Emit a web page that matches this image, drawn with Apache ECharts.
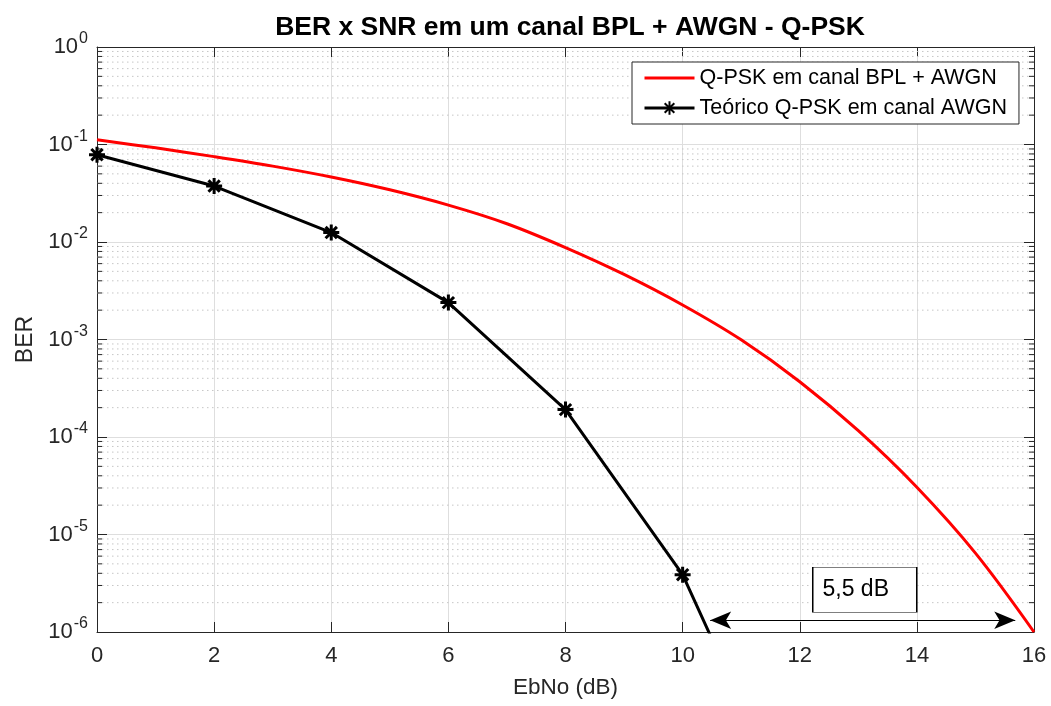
<!DOCTYPE html>
<html>
<head>
<meta charset="utf-8">
<script src="https://cdn.jsdelivr.net/npm/echarts@6/dist/echarts.min.js"></script>
<style>
  html, body { margin: 0; padding: 0; background: #fff; }
  #chart { width: 1051px; height: 706px; }
</style>
</head>
<body>
<div id="chart"></div>
<script>
// Eb/No axis (dB)
const xTicks = [0, 2, 4, 6, 8, 10, 12, 14, 16];

// Q-PSK over BPL + AWGN channel
const bplEbNo = [0, 1, 2, 3, 4, 5, 6, 7, 8, 9, 10, 11, 12, 13, 14, 15, 16];
const bplBer  = [0.1117, 0.0924, 0.0751, 0.0600, 0.0464, 0.0343, 0.0239, 0.0154, 0.00877,
                 0.00465, 0.00226, 9.93e-4, 3.69e-4, 1.16e-4, 3.05e-5, 6.44e-6, 1.0e-6];

// Theoretical Q-PSK over AWGN (last point lies below the axis floor)
const theoEbNo = [0, 2, 4, 6, 8, 10, 12];
const theoBer  = [0.0786, 0.0375, 0.0125, 0.00239, 1.91e-4, 3.87e-6, 9.0e-9];

const seriesNames = ['Q-PSK em canal BPL + AWGN', 'Teórico Q-PSK em canal AWGN'];

// Gap annotation at the BER = 1e-6 floor
const gapArrow = { from: 10.47, to: 15.68, ber: 1.32e-6 };
const gapLabel = { text: '5,5 dB', x: 13.11, ber: 2.71e-6 };

const FONT = "'Liberation Sans', Arial, Helvetica, sans-serif";
const AXIS_COLOR = '#262626';
const X_MIN = 0, X_MAX = 16;

// Log minor positions (2..9 x 10^k)
const minorVals = [];
for (let k = -6; k <= -1; k++) {
  for (let m = 2; m <= 9; m++) minorVals.push(m * Math.pow(10, k));
}

const asterisk = 'path://M0,-10L0,10M-10,0L10,0M-7.07,-7.07L7.07,7.07M-7.07,7.07L7.07,-7.07';

const chart = echarts.init(document.getElementById('chart'), null, { renderer: 'canvas' });

const yLabelFmt = v => {
  const e = Math.round(Math.log10(v));
  return '{b|10}{e|' + e + '}';
};

// dotted minor grid line across the plot plus short inward ticks on both edges
function renderMinor(params, api) {
  const v = api.value(1);
  const p0 = api.coord([X_MIN, v]);
  const p1 = api.coord([X_MAX, v]);
  return {
    type: 'group',
    children: [
      { type: 'line', shape: { x1: p0[0], y1: p0[1], x2: p1[0], y2: p1[1] },
        style: { stroke: '#c6c6c6', lineWidth: 1, lineDash: [1.5, 3.5] }, z2: 1 },
      { type: 'line', shape: { x1: p0[0], y1: p0[1], x2: p0[0] + 5, y2: p0[1] },
        style: { stroke: AXIS_COLOR, lineWidth: 1 }, z2: 5 },
      { type: 'line', shape: { x1: p1[0] - 5, y1: p1[1], x2: p1[0], y2: p1[1] },
        style: { stroke: AXIS_COLOR, lineWidth: 1 }, z2: 5 }
    ]
  };
}

const option = {
  animation: false,
  backgroundColor: '#fff',
  textStyle: { fontFamily: FONT },
  title: {
    text: 'BER x SNR em um canal BPL + AWGN - Q-PSK',
    left: 565, top: 9, textAlign: 'center',
    textStyle: { fontFamily: FONT, fontSize: 26.5, fontWeight: 'bold', color: '#000' }
  },
  legend: {
    orient: 'vertical',
    left: 632, top: 62,
    padding: [5, 12, 5, 11],
    itemWidth: 50, itemHeight: 17, itemGap: 8,
    backgroundColor: '#fff',
    borderColor: AXIS_COLOR, borderWidth: 1, borderRadius: 0,
    lineStyle: { width: 3 },
    textStyle: { fontFamily: FONT, fontSize: 21.5, color: '#000' },
    data: [
      { name: seriesNames[0], itemStyle: { opacity: 0 } },
      { name: seriesNames[1] }
    ]
  },
  grid: { left: 97, right: 17, top: 47, bottom: 74, containLabel: false },
  xAxis: [{
    type: 'value', min: X_MIN, max: X_MAX, interval: 2,
    name: 'EbNo (dB)', nameLocation: 'middle', nameGap: 44,
    nameTextStyle: { fontFamily: FONT, fontSize: 22.5, color: AXIS_COLOR },
    axisLine: { show: true, onZero: false, lineStyle: { color: AXIS_COLOR, width: 1 } },
    axisTick: { show: true, inside: true, length: 10, lineStyle: { color: AXIS_COLOR } },
    axisLabel: { fontFamily: FONT, fontSize: 22, color: AXIS_COLOR, margin: 13,
                 formatter: v => xTicks.includes(v) ? String(v) : '' },
    splitLine: { show: true, lineStyle: { color: '#dedede', width: 1 } }
  }, {
    type: 'value', min: X_MIN, max: X_MAX, interval: 2, position: 'top',
    axisLine: { show: true, onZero: false, lineStyle: { color: AXIS_COLOR, width: 1 } },
    axisTick: { show: true, inside: true, length: 10, lineStyle: { color: AXIS_COLOR } },
    axisLabel: { show: false },
    splitLine: { show: false }
  }],
  yAxis: [{
    type: 'log', logBase: 10, min: 1e-6, max: 1, interval: 1,
    name: 'BER', nameLocation: 'middle', nameGap: 60, nameRotate: 90,
    nameTextStyle: { fontFamily: FONT, fontSize: 23, color: AXIS_COLOR },
    axisLine: { show: true, onZero: false, lineStyle: { color: AXIS_COLOR, width: 1 } },
    axisTick: { show: true, inside: true, length: 10, lineStyle: { color: AXIS_COLOR } },
    axisLabel: {
      margin: 9, color: AXIS_COLOR, formatter: yLabelFmt,
      rich: {
        b: { fontFamily: FONT, fontSize: 22, color: AXIS_COLOR },
        e: { fontFamily: FONT, fontSize: 16, color: AXIS_COLOR, padding: [0, 0, 16, 1] }
      }
    },
    splitLine: { show: true, lineStyle: { color: '#dedede', width: 1 } }
  }, {
    type: 'log', logBase: 10, min: 1e-6, max: 1, interval: 1, position: 'right',
    axisLine: { show: true, onZero: false, lineStyle: { color: AXIS_COLOR, width: 1 } },
    axisTick: { show: true, inside: true, length: 10, lineStyle: { color: AXIS_COLOR } },
    axisLabel: { show: false },
    splitLine: { show: false }
  }],
  series: [
    {
      type: 'custom', name: 'minor', z: 1, silent: true, clip: false,
      renderItem: renderMinor,
      encode: { x: 0, y: 1 },
      data: minorVals.map(v => [X_MIN, v])
    },
    {
      name: seriesNames[0], type: 'line', z: 3,
      data: bplEbNo.map((x, i) => [x, bplBer[i]]),
      smooth: 0.35, showSymbol: false, symbol: 'none', clip: true,
      lineStyle: { color: '#ff0000', width: 3 },
      itemStyle: { color: '#ff0000' }
    },
    {
      name: seriesNames[1], type: 'line', z: 3,
      data: theoEbNo.map((x, i) => ({ value: [x, theoBer[i]], symbol: theoBer[i] < 1e-6 ? 'none' : asterisk })),
      symbol: asterisk, symbolSize: 16, showSymbol: true, clip: true,
      lineStyle: { color: '#000', width: 3 },
      itemStyle: { color: '#000', borderColor: '#000', borderWidth: 3 }
    },
    {
      // gap annotation: double arrow and text box
      type: 'line', name: 'gap', data: [], z: 5, silent: true,
      markLine: {
        silent: true, animation: false,
        symbol: ['arrow', 'arrow'], symbolSize: [13, 21],
        label: { show: false },
        lineStyle: { color: '#000', type: 'solid', width: 1.2 },
        data: [[{ coord: [gapArrow.from, gapArrow.ber] }, { coord: [gapArrow.to, gapArrow.ber] }]]
      },
      markPoint: {
        silent: true, animation: false,
        symbol: 'rect', symbolSize: [104, 45],
        itemStyle: { color: '#fff', borderColor: '#000', borderWidth: 1 },
        label: { show: true, position: 'inside', offset: [-9, 0], formatter: gapLabel.text,
                 fontFamily: FONT, fontSize: 23, color: '#000' },
        data: [{ coord: [gapLabel.x, gapLabel.ber] }]
      }
    }
  ]
};

chart.setOption(option);
</script>
</body>
</html>
